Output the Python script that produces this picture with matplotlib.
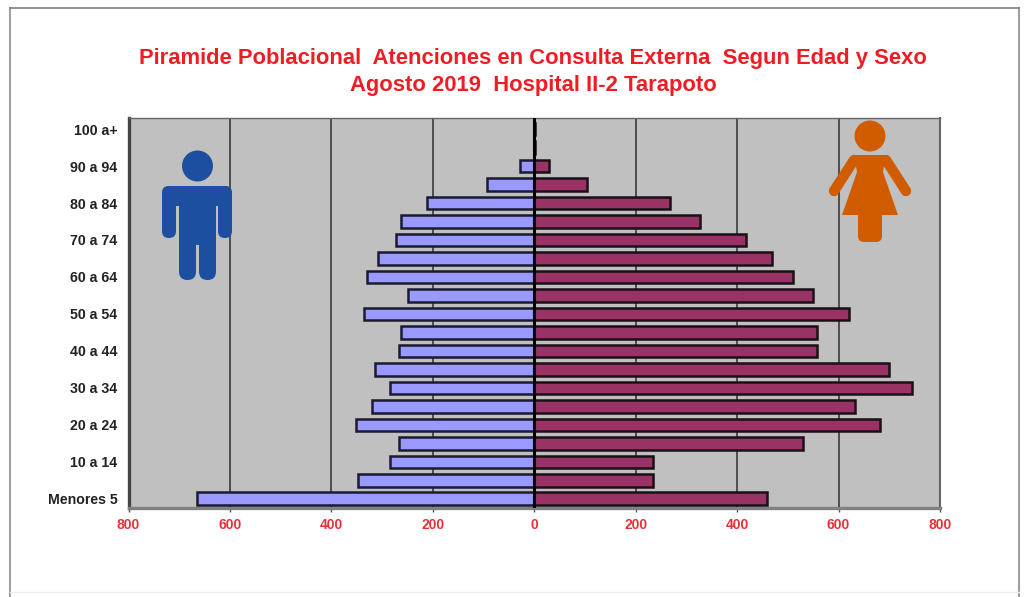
import numpy as np
import matplotlib
matplotlib.use('Agg')
import matplotlib.pyplot as plt
from matplotlib.patches import Circle, Polygon, FancyBboxPatch

plt.rcParams['font.family'] = ['Liberation Sans', 'DejaVu Sans']

# bottom row first
groups = ['Menores 5', '5 a 9', '10 a 14', '15 a 19', '20 a 24', '25 a 29', '30 a 34',
          '35 a 39', '40 a 44', '45 a 49', '50 a 54', '55 a 59', '60 a 64', '65 a 69',
          '70 a 74', '75 a 79', '80 a 84', '85 a 89', '90 a 94', '95 a 99', '100 a+']
male = [665, 347, 284, 266, 351, 320, 284, 314, 266, 262, 335, 249, 329, 308, 272, 262, 211, 93, 28, 1, 1]
female = [458, 235, 235, 530, 682, 633, 744, 700, 558, 558, 621, 550, 511, 469, 418, 327, 268, 104, 29, 1, 1]
ticks = [-800, -600, -400, -200, 0, 200, 400, 600, 800]
tick_labels = ['800', '600', '400', '200', '0', '200', '400', '600', '800']
title = 'Piramide Poblacional  Atenciones en Consulta Externa  Segun Edad y Sexo\nAgosto 2019  Hospital II-2 Tarapoto'

W, H = 1024, 597
fig = plt.figure(figsize=(W / 100, H / 100), dpi=100, facecolor='white')

# page frame and icons are placed in pixels, so use an overlay
bg = fig.add_axes([0, 0, 1, 1], zorder=0)
bg.set_xlim(0, W)
bg.set_ylim(H, 0)
bg.axis('off')
bg.plot([10, 10], [H, 8], color='#a0a0a0', lw=1.5)
bg.plot([1019, 1019], [H, 8], color='#a0a0a0', lw=1.5)
bg.plot([10, 1019], [8, 8], color='#808080', lw=1.2)
bg.plot([10, 1019], [592, 592], color='#eeeeee', lw=1)

ax = fig.add_axes([128.5 / W, 1 - 508 / H, (940 - 128.5) / W, (508 - 118) / H], zorder=1)
ax.set_facecolor('#c0c0c0')
y = np.arange(len(groups))
ax.barh(y, -np.array(male), height=0.68, color='#9999ff', edgecolor='#1a1a30', linewidth=1.8, zorder=3)
ax.barh(y, female, height=0.68, color='#993366', edgecolor='#1a1016', linewidth=1.8, zorder=3)
ax.set_xlim(-800, 800)
ax.set_ylim(-0.5, len(groups) - 0.4)
ax.set_xticks(ticks)
ax.set_xticklabels(tick_labels, color='#e8303a', fontsize=10, fontweight='bold')
ax.set_yticks(y[::2])
ax.set_yticklabels(groups[::2], color='#222222', fontsize=10.2, fontweight='bold')
ax.tick_params(axis='y', length=0, pad=8)
ax.tick_params(axis='x', length=3, width=1, color='#555555', pad=4)
ax.grid(axis='x', color='#3a3a3a', linewidth=1.2, zorder=1)
ax.axvline(0, color='black', linewidth=2.2, zorder=4)
for name, spine in ax.spines.items():
    spine.set_color('#666666')
ax.spines['left'].set_linewidth(2.4)
ax.spines['left'].set_color('#444444')
ax.spines['bottom'].set_linewidth(2.4)
ax.spines['bottom'].set_color('#808080')
ax.spines['top'].set_linewidth(1)
ax.spines['right'].set_linewidth(1.5)

fig.text(533 / W, 1 - 72 / H, title, ha='center', va='center', color='#f01c24',
         fontsize=15.8, fontweight='bold', linespacing=1.38)

# icons
over = fig.add_axes([0, 0, 1, 1], zorder=2)
over.set_xlim(0, W)
over.set_ylim(H, 0)
over.axis('off')
over.patch.set_alpha(0)


def rbox(x0, y0, x1, y1, r, color):
    over.add_patch(FancyBboxPatch((x0 + r, y0 + r), x1 - x0 - 2 * r, y1 - y0 - 2 * r,
                                  boxstyle='round,pad=%g,rounding_size=%g' % (r, r),
                                  fc=color, ec='none', mutation_aspect=1))


blue = '#1c4fa0'
over.add_patch(Circle((197.5, 166), 15.5, fc=blue, ec='none'))
rbox(162, 186, 232, 206, 8, blue)
rbox(162, 186, 176, 238, 6.9, blue)
rbox(218, 186, 232, 238, 6.9, blue)
rbox(179, 190, 216, 245, 1, blue)
rbox(179, 225, 196, 280, 8.4, blue)
rbox(199, 225, 216, 280, 8.4, blue)

orange = '#d15c00'
over.add_patch(Circle((870, 136), 15.5, fc=orange, ec='none'))
over.add_patch(Polygon([[854, 155], [886, 155], [883, 172], [898, 215], [842, 215], [857, 172]],
                       fc=orange, ec='none'))
rbox(858, 205, 882, 242, 6, orange)
over.plot([854, 834], [160, 191], color=orange, lw=7.5, solid_capstyle='round')
over.plot([886, 906], [160, 191], color=orange, lw=7.5, solid_capstyle='round')

fig.savefig('out.png', dpi=100)
